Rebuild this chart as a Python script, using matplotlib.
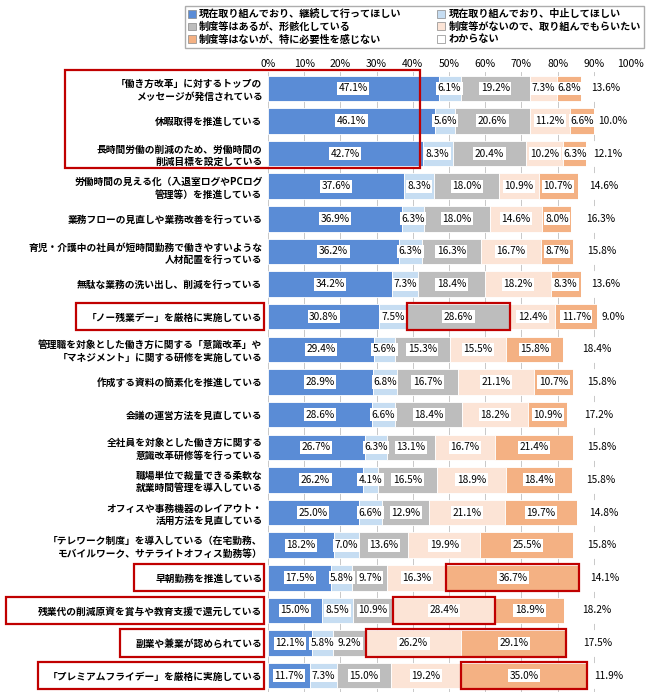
import matplotlib
matplotlib.use("Agg")
import matplotlib.pyplot as plt
from matplotlib.patches import Rectangle
import numpy as np

plt.rcParams['font.family'] = ['Noto Sans CJK JP', 'DejaVu Sans']

categories = [
    "「働き方改革」に対するトップの\nメッセージが発信されている",
    "休暇取得を推進している",
    "長時間労働の削減のため、労働時間の\n削減目標を設定している",
    "労働時間の見える化（入退室ログやPCログ\n管理等）を推進している",
    "業務フローの見直しや業務改善を行っている",
    "育児・介護中の社員が短時間勤務で働きやすいような\n人材配置を行っている",
    "無駄な業務の洗い出し、削減を行っている",
    "「ノー残業デー」を厳格に実施している",
    "管理職を対象とした働き方に関する「意識改革」や\n「マネジメント」に関する研修を実施している",
    "作成する資料の簡素化を推進している",
    "会議の運営方法を見直している",
    "全社員を対象とした働き方に関する\n意識改革研修等を行っている",
    "職場単位で裁量できる柔軟な\n就業時間管理を導入している",
    "オフィスや事務機器のレイアウト・\n活用方法を見直している",
    "「テレワーク制度」を導入している（在宅勤務、\nモバイルワーク、サテライトオフィス勤務等）",
    "早朝勤務を推進している",
    "残業代の削減原資を賞与や教育支援で還元している",
    "副業や兼業が認められている",
    "「プレミアムフライデー」を厳格に実施している",
]
series_names = ["現在取り組んでおり、継続して行ってほしい", "現在取り組んでおり、中止してほしい",
                "制度等はあるが、形骸化している", "制度等がないので、取り組んでもらいたい",
                "制度等はないが、特に必要性を感じない", "わからない"]
s1 = [47.1, 46.1, 42.7, 37.6, 36.9, 36.2, 34.2, 30.8, 29.4, 28.9, 28.6, 26.7, 26.2, 25.0, 18.2, 17.5, 15.0, 12.1, 11.7]
s2 = [6.1, 5.6, 8.3, 8.3, 6.3, 6.3, 7.3, 7.5, 5.6, 6.8, 6.6, 6.3, 4.1, 6.6, 7.0, 5.8, 8.5, 5.8, 7.3]
s3 = [19.2, 20.6, 20.4, 18.0, 18.0, 16.3, 18.4, 28.6, 15.3, 16.7, 18.4, 13.1, 16.5, 12.9, 13.6, 9.7, 10.9, 9.2, 15.0]
s4 = [7.3, 11.2, 10.2, 10.9, 14.6, 16.7, 18.2, 12.4, 15.5, 21.1, 18.2, 16.7, 18.9, 21.1, 19.9, 16.3, 28.4, 26.2, 19.2]
s5 = [6.8, 6.6, 6.3, 10.7, 8.0, 8.7, 8.3, 11.7, 15.8, 10.7, 10.9, 21.4, 18.4, 19.7, 25.5, 36.7, 18.9, 29.1, 35.0]
s6 = [13.6, 10.0, 12.1, 14.6, 16.3, 15.8, 13.6, 9.0, 18.4, 15.8, 17.2, 15.8, 15.8, 14.8, 15.8, 14.1, 18.2, 17.5, 11.9]
colors = ["#5A8CD6", "#C6DDF2", "#BDBDBD", "#FCE4D6", "#F4B183", "#FFFFFF"]

fig = plt.figure(figsize=(6.5, 6.97), dpi=100)
ax = fig.add_axes([268/650, 1-692/697, 362/650, (692-72)/697])
n = len(categories)
y = np.arange(n)
left = np.zeros(n)
data = np.array([s1, s2, s3, s4, s5, s6])
for vals, c in zip(data, colors):
    ax.barh(y, vals, left=left, height=0.78, color=c, edgecolor="white", linewidth=0.6, zorder=2)
    for yi, (l, v) in enumerate(zip(left, vals)):
        ax.text(l + v/2, yi, f"{v:.1f}%", ha="center", va="center", fontsize=7.3, zorder=4,
                bbox=dict(boxstyle="square,pad=0.15", fc="white", ec="none"))
    left += vals
cum = np.vstack([np.zeros(n), np.cumsum(data, axis=0)])
ax.set_xlim(0, 100)
ax.set_ylim(n - 0.5, -0.5)
ax.xaxis.tick_top()
ax.set_xticks(range(0, 101, 10))
ax.set_xticklabels([f"{v}%" for v in range(0, 101, 10)], fontsize=7.5)
ax.tick_params(axis="x", length=0, pad=2)
ax.set_yticks(y)
ax.set_yticklabels(categories, fontsize=7, fontweight="bold", linespacing=1.3)
ax.tick_params(axis="y", length=0, pad=4)
ax.grid(axis="x", color="#BFBFBF", linewidth=0.6, zorder=0)
for sp in ax.spines.values():
    sp.set_visible(False)

red = "#C00000"
def box(x0, x1, y0, y1):
    ax.add_patch(Rectangle((x0, y0), x1 - x0, y1 - y0, fill=False, ec=red, lw=1.6, clip_on=False, zorder=6))
def segbox(row, k):
    box(cum[k, row], cum[k + 1, row], row - 0.42, row + 0.42)
box(-56, 42, -0.55, 2.45)
box(-53, -1, 6.58, 7.42)
segbox(7, 2)
box(-37, -1, 14.58, 15.42)
segbox(15, 4)
box(-72.5, -1, 15.58, 16.42)
segbox(16, 3)
box(-41, -1, 16.58, 17.42)
box(cum[3, 17], cum[5, 17], 16.58, 17.42)
box(-63.5, -1, 17.58, 18.42)
segbox(18, 4)

handles = [Rectangle((0, 0), 1, 1, fc=c, ec="#888888", lw=0.5) for c in colors]
order = [0, 2, 4, 1, 3, 5]
fig.legend([handles[i] for i in order], [series_names[i] for i in order], ncol=2,
           loc="upper left", bbox_to_anchor=(180/650, 1-1/697), prop={'weight': 'bold', 'size': 7.3},
           frameon=True, fancybox=False, edgecolor="#999999", handlelength=0.8, handleheight=0.8,
           handletextpad=0.3, columnspacing=3.5, labelspacing=0.25, borderpad=0.3)
fig.savefig("out.png", dpi=100)
